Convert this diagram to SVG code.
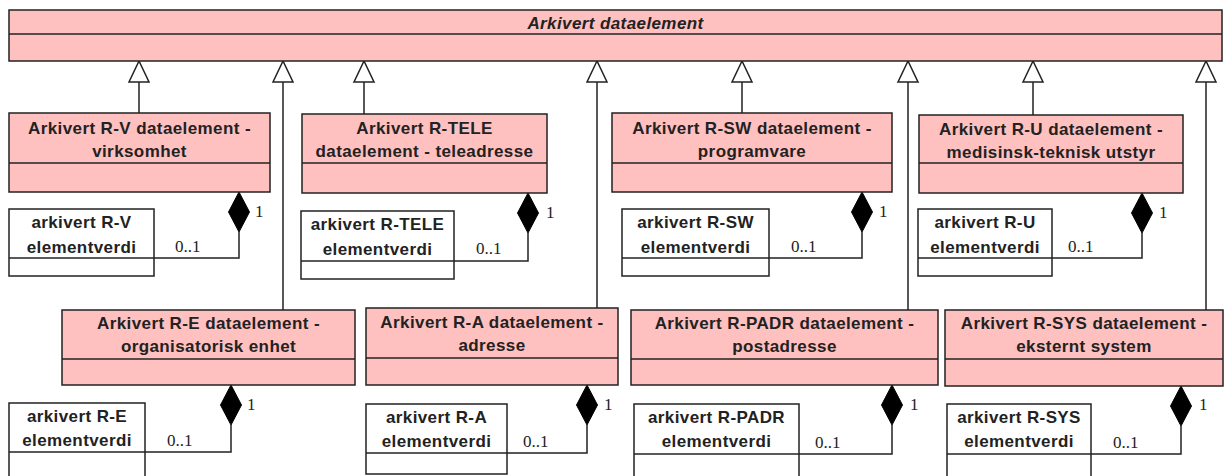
<svg xmlns="http://www.w3.org/2000/svg" width="1225" height="476" viewBox="0 0 1225 476">
<defs>
<style>
.cls{fill:#FFC0C0;stroke:#222;stroke-width:1.5}
.val{fill:#fff;stroke:#222;stroke-width:1.5}
.dv{stroke:#222;stroke-width:1.5}
.t{font-family:"Liberation Sans",Arial,sans-serif;font-size:17px;font-weight:bold;fill:#222;text-anchor:middle;letter-spacing:0.4px}
.ti{font-style:italic}
.m{font-family:"Liberation Serif","Times New Roman",serif;font-size:17px;fill:#222}
.ln{stroke:#222;stroke-width:1.5;fill:none}
.gen{fill:#fff;stroke:#222;stroke-width:1.5}
.dia{fill:#000;stroke:#000;stroke-width:1}
</style>
</defs>
<rect width="1225" height="476" fill="#fff"/>

<g id="connectors">
<!-- generalizations -->
<path class="ln" d="M139,82V113M283,82V310M364,82V114M597,82V308M742,82V113M908,82V310M1033,82V115M1206,82V310"/>
<path class="gen" d="M139,61L129,82H149Z"/>
<path class="gen" d="M283,61L273,82H293Z"/>
<path class="gen" d="M364,61L354,82H374Z"/>
<path class="gen" d="M597,61L587,82H607Z"/>
<path class="gen" d="M742,61L732,82H752Z"/>
<path class="gen" d="M908,61L898,82H918Z"/>
<path class="gen" d="M1033,61L1023,82H1043Z"/>
<path class="gen" d="M1206,61L1196,82H1216Z"/>
<!-- compositions -->
<path class="ln" d="M239,232V258H154"/>
<path class="dia" d="M239,192L249.5,212L239,232L228.5,212Z"/>
<text class="m" x="255" y="217">1</text><text class="m" x="175" y="252">0..1</text>

<path class="ln" d="M528,233V261H454"/>
<path class="dia" d="M528,193L538.5,213L528,233L517.5,213Z"/>
<text class="m" x="546" y="218">1</text><text class="m" x="476" y="254">0..1</text>

<path class="ln" d="M862,232V258H769"/>
<path class="dia" d="M862,192L872.5,212L862,232L851.5,212Z"/>
<text class="m" x="879" y="217">1</text><text class="m" x="791" y="252">0..1</text>

<path class="ln" d="M1142,233V258H1052"/>
<path class="dia" d="M1142,193L1152.5,213L1142,233L1131.5,213Z"/>
<text class="m" x="1159" y="218">1</text><text class="m" x="1068" y="252">0..1</text>

<path class="ln" d="M231,425V452H145"/>
<path class="dia" d="M231,385L241.5,405L231,425L220.5,405Z"/>
<text class="m" x="247" y="410">1</text><text class="m" x="167" y="446">0..1</text>

<path class="ln" d="M587,425V453H507"/>
<path class="dia" d="M587,385L597.5,405L587,425L576.5,405Z"/>
<text class="m" x="604" y="410">1</text><text class="m" x="523" y="447">0..1</text>

<path class="ln" d="M892,425V454H799"/>
<path class="dia" d="M892,385L902.5,405L892,425L881.5,405Z"/>
<text class="m" x="910" y="410">1</text><text class="m" x="815" y="448">0..1</text>

<path class="ln" d="M1181,426V454H1091"/>
<path class="dia" d="M1181,386L1191.5,406L1181,426L1170.5,406Z"/>
<text class="m" x="1199" y="410">1</text><text class="m" x="1113" y="448">0..1</text>
</g>

<g id="arkivert-dataelement">
<rect class="cls" x="9" y="10" width="1213" height="51"/>
<line class="dv" x1="9" y1="34" x2="1222" y2="34"/>
<text class="t ti" x="615.5" y="29">Arkivert dataelement</text>
</g>

<g id="r-v">
<rect class="cls" x="9" y="113" width="261" height="79"/>
<line class="dv" x1="9" y1="163" x2="270" y2="163"/>
<text class="t" x="139.5" y="134">Arkivert R-V dataelement -</text>
<text class="t" x="139.5" y="157">virksomhet</text>
</g>
<g id="r-tele">
<rect class="cls" x="302" y="114" width="245" height="79"/>
<line class="dv" x1="302" y1="163" x2="547" y2="163"/>
<text class="t" x="424.5" y="134">Arkivert R-TELE</text>
<text class="t" x="424.5" y="157">dataelement - teleadresse</text>
</g>
<g id="r-sw">
<rect class="cls" x="612" y="113" width="280" height="79"/>
<line class="dv" x1="612" y1="163" x2="892" y2="163"/>
<text class="t" x="752" y="134">Arkivert R-SW dataelement -</text>
<text class="t" x="752" y="157">programvare</text>
</g>
<g id="r-u">
<rect class="cls" x="919" y="115" width="264" height="78"/>
<line class="dv" x1="919" y1="163" x2="1183" y2="163"/>
<text class="t" x="1051" y="135">Arkivert R-U dataelement -</text>
<text class="t" x="1051" y="158">medisinsk-teknisk utstyr</text>
</g>

<g id="r-e">
<rect class="cls" x="62" y="310" width="293" height="75"/>
<line class="dv" x1="62" y1="359" x2="355" y2="359"/>
<text class="t" x="208.5" y="329">Arkivert R-E dataelement -</text>
<text class="t" x="208.5" y="352">organisatorisk enhet</text>
</g>
<g id="r-a">
<rect class="cls" x="366" y="308" width="252" height="77"/>
<line class="dv" x1="366" y1="358" x2="618" y2="358"/>
<text class="t" x="492" y="328">Arkivert R-A dataelement -</text>
<text class="t" x="492" y="351">adresse</text>
</g>
<g id="r-padr">
<rect class="cls" x="631" y="310" width="307" height="75"/>
<line class="dv" x1="631" y1="359" x2="938" y2="359"/>
<text class="t" x="784.5" y="329">Arkivert R-PADR dataelement -</text>
<text class="t" x="784.5" y="352">postadresse</text>
</g>
<g id="r-sys">
<rect class="cls" x="945" y="310" width="278" height="76"/>
<line class="dv" x1="945" y1="359" x2="1223" y2="359"/>
<text class="t" x="1084" y="329">Arkivert R-SYS dataelement -</text>
<text class="t" x="1084" y="352">eksternt system</text>
</g>

<g id="r-v-verdi">
<rect class="val" x="9" y="209" width="145" height="67"/>
<line class="dv" x1="9" y1="258" x2="154" y2="258"/>
<text class="t" x="81.5" y="228">arkivert R-V</text>
<text class="t" x="81.5" y="253">elementverdi</text>
</g>
<g id="r-tele-verdi">
<rect class="val" x="301" y="211" width="153" height="68"/>
<line class="dv" x1="301" y1="261" x2="454" y2="261"/>
<text class="t" x="377.5" y="230">arkivert R-TELE</text>
<text class="t" x="377.5" y="255">elementverdi</text>
</g>
<g id="r-sw-verdi">
<rect class="val" x="622" y="209" width="147" height="67"/>
<line class="dv" x1="622" y1="258" x2="769" y2="258"/>
<text class="t" x="695.5" y="228">arkivert R-SW</text>
<text class="t" x="695.5" y="253">elementverdi</text>
</g>
<g id="r-u-verdi">
<rect class="val" x="918" y="209" width="134" height="67"/>
<line class="dv" x1="918" y1="258" x2="1052" y2="258"/>
<text class="t" x="985" y="228">arkivert R-U</text>
<text class="t" x="985" y="253">elementverdi</text>
</g>
<g id="r-e-verdi">
<rect class="val" x="9" y="403" width="136" height="80"/>
<line class="dv" x1="9" y1="452" x2="145" y2="452"/>
<text class="t" x="77" y="422">arkivert R-E</text>
<text class="t" x="77" y="446">elementverdi</text>
</g>
<g id="r-a-verdi">
<rect class="val" x="366" y="404" width="141" height="70"/>
<line class="dv" x1="366" y1="453" x2="507" y2="453"/>
<text class="t" x="436.5" y="423">arkivert R-A</text>
<text class="t" x="436.5" y="447">elementverdi</text>
</g>
<g id="r-padr-verdi">
<rect class="val" x="634" y="404" width="165" height="80"/>
<line class="dv" x1="634" y1="454" x2="799" y2="454"/>
<text class="t" x="716.5" y="423">arkivert R-PADR</text>
<text class="t" x="716.5" y="447">elementverdi</text>
</g>
<g id="r-sys-verdi">
<rect class="val" x="947" y="404" width="144" height="80"/>
<line class="dv" x1="947" y1="454" x2="1091" y2="454"/>
<text class="t" x="1019" y="423">arkivert R-SYS</text>
<text class="t" x="1019" y="447">elementverdi</text>
</g>
</svg>
